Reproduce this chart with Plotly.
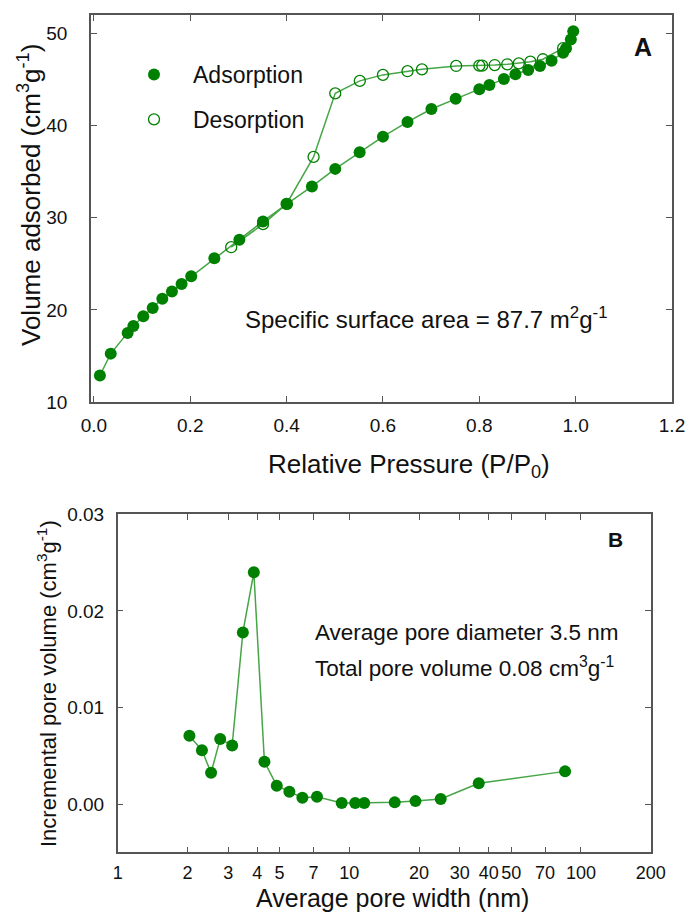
import plotly.graph_objects as go
import numpy as np

# ---- Panel A data ----
ads_p = [0.0125, 0.035, 0.07, 0.082, 0.1025, 0.122, 0.142, 0.162, 0.182, 0.202, 0.25, 0.302,
         0.351, 0.401, 0.4526, 0.501, 0.5516, 0.60, 0.651, 0.7006, 0.751, 0.80, 0.821, 0.851,
         0.875, 0.9015, 0.926, 0.95, 0.974, 0.98, 0.99, 0.995]
ads_v = [12.88, 15.25, 17.5, 18.25, 19.3, 20.2, 21.2, 22.0, 22.8, 23.65, 25.6, 27.6,
         29.6, 31.5, 33.4, 35.3, 37.1, 38.8, 40.4, 41.8, 42.9, 43.95, 44.4, 45.06,
         45.57, 46.03, 46.47, 47.04, 47.9, 48.4, 49.35, 50.25]
des_p = [0.285, 0.351, 0.40, 0.456, 0.501, 0.552, 0.60, 0.651, 0.681, 0.752, 0.80, 0.806,
         0.832, 0.858, 0.882, 0.906, 0.932, 0.974]
des_v = [26.8, 29.3, 31.5, 36.6, 43.5, 44.85, 45.5, 45.9, 46.1, 46.47, 46.5, 46.5,
         46.57, 46.65, 46.75, 46.93, 47.2, 48.4]
a_xticks = [0.0, 0.2, 0.4, 0.6, 0.8, 1.0, 1.2]
a_yticks = [10, 20, 30, 40, 50]

# ---- Panel B data ----
pore_w = [2.04, 2.31, 2.53, 2.77, 3.12, 3.47, 3.87, 4.30, 4.86, 5.51, 6.27, 7.25,
          9.27, 10.6, 11.6, 15.7, 19.3, 24.8, 36.2, 85.4]
pore_v = [0.00707, 0.00556, 0.00324, 0.00673, 0.00607, 0.01777, 0.02399, 0.00438, 0.0019,
          0.00127, 0.00065, 0.00076, 0.0001, 0.0001, 0.0001, 0.00017, 0.0003, 0.00052,
          0.00214, 0.00338]
b_xticks = [1, 2, 3, 4, 5, 7, 10, 20, 30, 40, 50, 70, 100, 200]
b_yticks = [0.00, 0.01, 0.02, 0.03]

W, H = 688, 914
FONT = "Liberation Sans, Arial, sans-serif"
GREEN = "rgb(0,128,0)"
LINE = "rgb(70,165,70)"
AX = "#555555"


def px(x):
    return x / W


def py(y):
    return 1 - y / H


fig = go.Figure()
# connecting lines (not in legend)
fig.add_trace(go.Scatter(x=ads_p, y=ads_v, mode="lines", showlegend=False,
                         line=dict(color=LINE, width=1.5), xaxis="x", yaxis="y",
                         hoverinfo="skip"))
fig.add_trace(go.Scatter(x=des_p, y=des_v, mode="lines", showlegend=False,
                         line=dict(color=LINE, width=1.5), xaxis="x", yaxis="y",
                         hoverinfo="skip"))
# markers (legend entries)
fig.add_trace(go.Scatter(x=ads_p, y=ads_v, mode="markers", name="Adsorption",
                         legendgroup="a",
                         marker=dict(size=12, color=GREEN, symbol="circle"),
                         xaxis="x", yaxis="y"))
fig.add_trace(go.Scatter(x=des_p, y=des_v, mode="markers", name="Desorption",
                         legendgroup="b",
                         marker=dict(size=11, color=GREEN, symbol="circle-open",
                                     line=dict(width=1.3, color=GREEN)),
                         xaxis="x", yaxis="y"))
fig.add_trace(go.Scatter(x=pore_w, y=pore_v, mode="lines+markers", showlegend=False,
                         marker=dict(size=12, color=GREEN),
                         line=dict(color=LINE, width=1.5), xaxis="x2", yaxis="y2"))

axis_common = dict(showline=True, linecolor=AX, linewidth=1.5, mirror="ticks",
                   ticks="inside", ticklen=6, tickcolor=AX, tickwidth=1.2,
                   showgrid=False, zeroline=False)
tf19 = dict(family=FONT, size=19, color="#111")
tf18 = dict(family=FONT, size=18, color="#111")

fig.update_layout(
    width=W, height=H, template="none",
    margin=dict(l=0, r=0, t=0, b=0),
    paper_bgcolor="white", plot_bgcolor="white",
    font=dict(family=FONT, color="#111"),
    xaxis=dict(domain=[px(91), px(672)], range=[-0.006, 1.2], tickvals=a_xticks,
               tickformat=".1f", anchor="y", ticklabelstandoff=5, tickfont=tf19,
               **axis_common),
    yaxis=dict(domain=[py(402), py(15)], range=[10, 52], tickvals=a_yticks,
               anchor="x", ticklabelstandoff=18, tickfont=tf19, **axis_common),
    xaxis2=dict(domain=[px(117.7), px(650.7)], type="log", range=[0, np.log10(200)],
                tickvals=b_xticks, ticktext=[str(v) for v in b_xticks], tickangle=0,
                anchor="y2", ticklabelstandoff=3, tickfont=tf18, **axis_common),
    yaxis2=dict(domain=[py(852.3), py(514.3)], range=[-0.005, 0.03], tickvals=b_yticks,
                tickformat=".2f", anchor="x2", ticklabelstandoff=8, tickfont=tf19,
                **axis_common),
    legend=dict(x=px(115), y=py(53), xanchor="left", yanchor="top",
                font=dict(family=FONT, size=23, color="#111"),
                bgcolor="rgba(0,0,0,0)", tracegroupgap=12, itemwidth=68),
)

ann = [
    dict(text="Relative Pressure (P/P<sub>0</sub>)", x=px(409), y=py(465), size=26),
    dict(text="Volume adsorbed (cm<sup>3</sup>g<sup>-1</sup>)", x=px(29), y=py(195), size=26, angle=-90),
    dict(text="Specific surface area = 87.7 m<sup>2</sup>g<sup>-1</sup>", x=px(426), y=py(318), size=24),
    dict(text="<b>A</b>", x=px(643), y=py(47), size=25),
    dict(text="<b>B</b>", x=px(615), y=py(539), size=21),
    dict(text="Average pore width (nm)", x=px(392), y=py(898), size=25),
    dict(text="Incremental pore volume (cm<sup>3</sup>g<sup>-1</sup>)", x=px(47), y=py(684), size=22, angle=-90),
]
for a in ann:
    fig.add_annotation(text=a["text"], x=a["x"], y=a["y"], xref="paper", yref="paper",
                       showarrow=False, textangle=a.get("angle", 0),
                       font=dict(family=FONT, size=a["size"], color="#111"),
                       xanchor="center", yanchor="middle")
for t, yy in [("Average pore diameter 3.5 nm", 632), ("Total pore volume 0.08 cm<sup>3</sup>g<sup>-1</sup>", 667)]:
    fig.add_annotation(text=t, x=px(313), y=py(yy), xref="paper", yref="paper",
                       showarrow=False, xanchor="left", yanchor="middle",
                       font=dict(family=FONT, size=22.5, color="#111"))

fig.write_html("out.html")
